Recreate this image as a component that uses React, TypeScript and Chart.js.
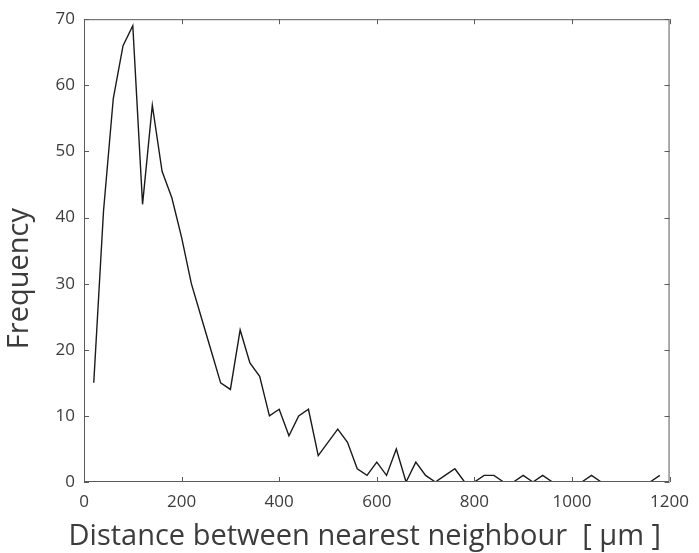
import React, { useEffect, useRef } from "react";
import { Chart, registerables } from "chart.js";

Chart.register(...registerables);

const distances: number[] = [
  20, 40, 60, 80, 100, 120, 140, 160, 180, 200, 220, 240, 260, 280, 300, 320, 340, 360, 380, 400,
  420, 440, 460, 480, 500, 520, 540, 560, 580, 600, 620, 640, 660, 680, 700, 720, 740, 760, 780, 800,
  820, 840, 860, 880, 900, 920, 940, 960, 980, 1000, 1020, 1040, 1060, 1080, 1100, 1120, 1140, 1160, 1180,
];
const frequency: number[] = [
  15, 41, 58, 66, 69, 42, 57, 47, 43, 37, 30, 25, 20, 15, 14, 23, 18, 16, 10, 11,
  7, 10, 11, 4, 6, 8, 6, 2, 1, 3, 1, 5, 0, 3, 1, 0, 1, 2, 0, 0,
  1, 1, 0, 0, 1, 0, 1, 0, 0, 0, 0, 1, 0, 0, 0, 0, 0, 0, 1,
];
const xTicks: number[] = [0, 200, 400, 600, 800, 1000, 1200];
const yTicks: number[] = [0, 10, 20, 30, 40, 50, 60, 70];
const xTitle = "Distance between nearest neighbour  [ μm ]";
const yTitle = "Frequency";

const FONT = "'Open Sans', 'Noto Sans', sans-serif";
const TEXT = "#3c3c3c";
const AXIS = "#5a5a5a";

const boxPlugin = {
  id: "matlabBox",
  afterDraw(chart: any) {
    const { ctx, chartArea, scales } = chart;
    const { left, right, top, bottom } = chartArea;
    const x = scales.x;
    const y = scales.y;
    const len = 5;
    ctx.save();
    ctx.strokeStyle = AXIS;
    ctx.lineWidth = 1;
    ctx.beginPath();
    ctx.rect(left + 0.5, top + 0.5, right - left - 1, bottom - top - 1);
    ctx.stroke();
    ctx.beginPath();
    xTicks.forEach((v) => {
      const px = Math.round(x.getPixelForValue(v)) + 0.5;
      ctx.moveTo(px, bottom);
      ctx.lineTo(px, bottom - len);
      ctx.moveTo(px, top);
      ctx.lineTo(px, top + len);
    });
    yTicks.forEach((v) => {
      const py = Math.round(y.getPixelForValue(v)) + 0.5;
      ctx.moveTo(left, py);
      ctx.lineTo(left + len, py);
      ctx.moveTo(right, py);
      ctx.lineTo(right - len, py);
    });
    ctx.stroke();

    // axis titles
    ctx.fillStyle = TEXT;
    ctx.font = `29px ${FONT}`;
    ctx.textBaseline = "alphabetic";
    ctx.textAlign = "center";
    const cx = (left + right) / 2 - 12;
    ctx.fillText(xTitle, cx, bottom + 63);
    ctx.save();
    const cy = (top + bottom) / 2 + 28;
    ctx.translate(left - 56, cy);
    ctx.rotate(-Math.PI / 2);
    ctx.fillText(yTitle, 0, 0);
    ctx.restore();
    ctx.restore();
  },
};

export default function App() {
  const ref = useRef<HTMLCanvasElement | null>(null);

  useEffect(() => {
    document.body.style.margin = "0";
    const canvas = ref.current;
    if (!canvas) return;
    const chart = new Chart(canvas, {
      type: "line",
      data: {
        datasets: [
          {
            data: distances.map((d, i) => ({ x: d, y: frequency[i] })),
            borderColor: "#1a1a1a",
            borderWidth: 1.4,
            pointRadius: 0,
            tension: 0,
            fill: false,
          },
        ],
      },
      options: {
        animation: false,
        responsive: false,
        maintainAspectRatio: false,
        layout: { padding: { left: 0, top: 18, right: 27, bottom: 0 } },
        plugins: { legend: { display: false }, tooltip: { enabled: false } },
        scales: {
          x: {
            type: "linear",
            min: 0,
            max: 1200,
            afterFit: (s: any) => {
              s.height = 71;
            },
            afterBuildTicks: (s: any) => {
              s.ticks = xTicks.map((v) => ({ value: v }));
            },
            grid: { display: false, drawTicks: false },
            border: { display: false },
            ticks: {
              padding: 10,
              color: TEXT,
              font: { family: FONT, size: 17 },
              maxRotation: 0,
              callback: (v: any) => String(v),
            },
            title: { display: false, text: xTitle },
          },
          y: {
            type: "linear",
            min: 0,
            max: 70,
            afterFit: (s: any) => {
              s.width = 84;
            },
            afterBuildTicks: (s: any) => {
              s.ticks = yTicks.map((v) => ({ value: v }));
            },
            grid: { display: false, drawTicks: false },
            border: { display: false },
            ticks: {
              padding: 9,
              color: TEXT,
              font: { family: FONT, size: 17 },
              callback: (v: any) => String(v),
            },
            title: { display: false, text: yTitle },
          },
        },
      },
      plugins: [boxPlugin],
    });
    return () => chart.destroy();
  }, []);

  return (
    <div style={{ position: "relative", width: 699, height: 553, background: "#fff" }}>
      <canvas ref={ref} width={699} height={553} style={{ display: "block" }} />
    </div>
  );
}
